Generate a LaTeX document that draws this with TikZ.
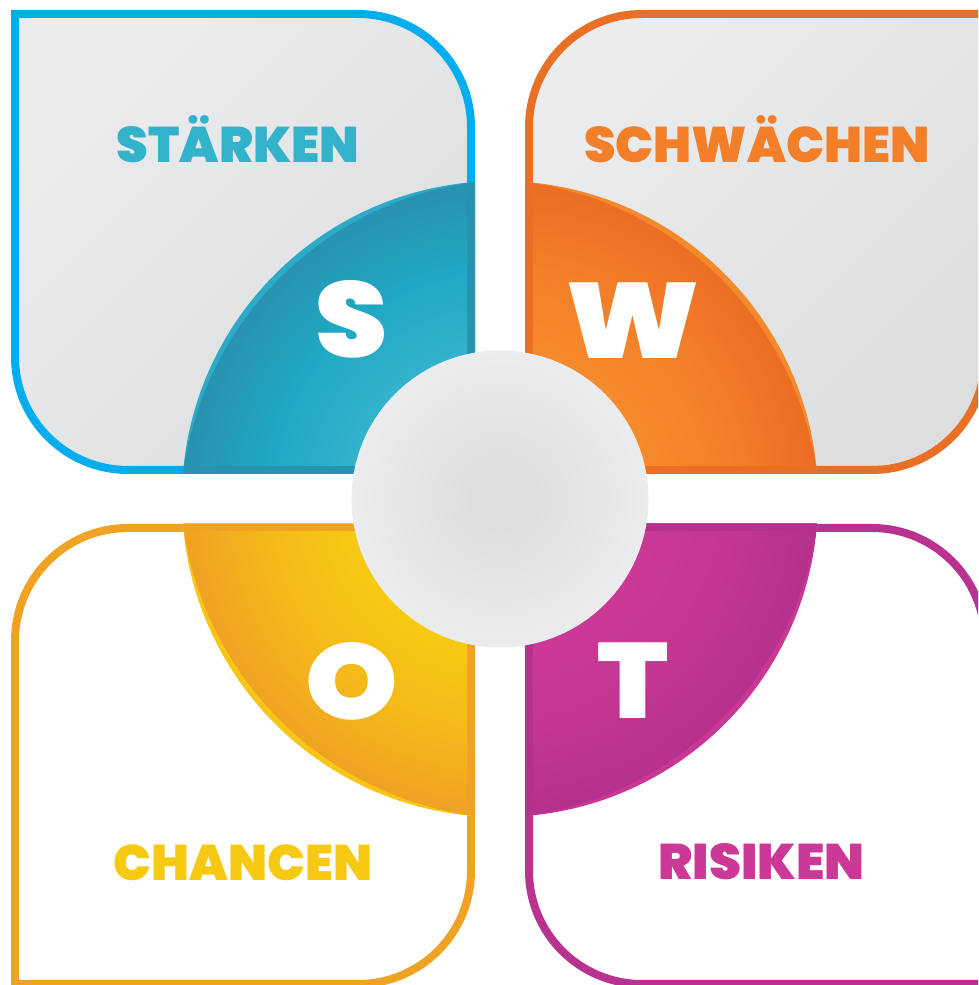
\documentclass[tikz,border=0pt]{standalone}
\usepackage{fontspec}
\newfontfamily\swotfont{Poppins Black}
\definecolor{grayA}{HTML}{EBECEE}
\definecolor{grayB}{HTML}{DDDEE0}
\definecolor{cBlue}{HTML}{00AEEF}
\definecolor{cOrange}{HTML}{E96F25}
\definecolor{cAmber}{HTML}{F0A323}
\definecolor{cPurple}{HTML}{B9328F}
\definecolor{sA}{HTML}{33B2CC}\definecolor{sB}{HTML}{1FA8C4}\definecolor{sC}{HTML}{2893B0}\definecolor{sR}{HTML}{2CABC8}
\definecolor{wA}{HTML}{F58B2C}\definecolor{wB}{HTML}{F37F28}\definecolor{wC}{HTML}{EC6E24}\definecolor{wR}{HTML}{F58A2C}
\definecolor{oA}{HTML}{F6C913}\definecolor{oB}{HTML}{F4BA19}\definecolor{oC}{HTML}{F0A323}\definecolor{oR}{HTML}{F6C515}
\definecolor{tA}{HTML}{CC3896}\definecolor{tB}{HTML}{C23793}\definecolor{tC}{HTML}{B6318E}\definecolor{tR}{HTML}{C93795}
\pgfdeclareradialshading{shs}{\pgfpoint{0bp}{0bp}}{color(0bp)=(sA);color(12bp)=(sA);color(18.5bp)=(sB);color(25bp)=(sC);color(50bp)=(sC)}
\pgfdeclareradialshading{shw}{\pgfpoint{0bp}{0bp}}{color(0bp)=(wA);color(12bp)=(wA);color(18.5bp)=(wB);color(25bp)=(wC);color(50bp)=(wC)}
\pgfdeclareradialshading{sho}{\pgfpoint{0bp}{0bp}}{color(0bp)=(oA);color(12bp)=(oA);color(18.5bp)=(oB);color(25bp)=(oC);color(50bp)=(oC)}
\pgfdeclareradialshading{sht}{\pgfpoint{0bp}{0bp}}{color(0bp)=(tA);color(12bp)=(tA);color(18.5bp)=(tB);color(25bp)=(tC);color(50bp)=(tC)}
\pgfdeclareradialshading{shc}{\pgfpoint{0bp}{0bp}}{color(0bp)=(grayB);color(5bp)=(grayB);color(25bp)=(grayA);color(50bp)=(grayA)}
\tikzset{
  x=1pt,y=1pt,
  boxline/.style={line width=8pt,line join=miter},
  grayfill/.style={top color=grayA,bottom color=grayB,shading angle=45},
  caption/.style={anchor=base,inner sep=0pt,font=\swotfont\fontsize{50}{50}\selectfont},
  letter/.style={anchor=base,inner sep=0pt,text=white,font=\swotfont\fontsize{107}{107}\selectfont}
}
% outer rectangle (1-4), inner rectangle (5-8), colour prefix (9); \qc = centre of the tapering inner arc
\newcommand{\quarter}[9]{%
  \begin{scope}
    \clip (#1,#2) rectangle (#3,#4);
    \fill[#9R] (500,486) circle (318);
    \begin{scope}
      \clip (\qc) circle (340);
      \clip (500,486) circle (318);
      \fill[#9C] (#1,#2) rectangle (#3,#4);
    \end{scope}
  \end{scope}
  \begin{scope}
    \clip (#5,#6) rectangle (#7,#8);
    \clip (\qc) circle (340);
    \shade[shading=sh#9] (500,486) circle (312);
  \end{scope}
}
\begin{document}
\begin{tikzpicture}
\useasboundingbox (0,0) rectangle (978,985);
\fill[white] (0,0) rectangle (978,985);
\clip (0,0) rectangle (978,985);
% boxes
\shade[grayfill] (15,971) -- (358,971) arc[start angle=90,end angle=0,radius=113] -- (471,515) -- (128,515) arc[start angle=270,end angle=180,radius=113] -- cycle;
\draw[boxline,cBlue] (15,971) -- (358,971) arc[start angle=90,end angle=0,radius=113] -- (471,515) -- (128,515) arc[start angle=270,end angle=180,radius=113] -- cycle;
\shade[grayfill] (642,971) -- (985,971) -- (985,628) arc[start angle=0,end angle=-90,radius=113] -- (529,515) -- (529,858) arc[start angle=180,end angle=90,radius=113] -- cycle;
\draw[boxline,cOrange] (642,971) -- (985,971) -- (985,628) arc[start angle=0,end angle=-90,radius=113] -- (529,515) -- (529,858) arc[start angle=180,end angle=90,radius=113] -- cycle;
\draw[boxline,cAmber,fill=white] (128,457) -- (471,457) -- (471,114) arc[start angle=0,end angle=-90,radius=113] -- (15,1) -- (15,344) arc[start angle=180,end angle=90,radius=113] -- cycle;
\draw[boxline,cPurple,fill=white] (529,457) -- (872,457) arc[start angle=90,end angle=0,radius=113] -- (985,1) -- (642,1) arc[start angle=270,end angle=180,radius=113] -- cycle;
% quarters
\def\qc{520,466}\quarter{0}{511}{475}{985}{0}{519}{467}{985}{s}
\def\qc{480,466}\quarter{525}{511}{985}{985}{533}{519}{985}{985}{w}
\def\qc{520,506}\quarter{0}{0}{475}{461}{0}{0}{467}{453}{o}
\def\qc{480,506}\quarter{525}{0}{985}{461}{533}{0}{985}{453}{t}
% centre
\shade[shading=shc] (500,486) circle (148.5);
% captions
\node[caption,text=sA] (capS) at (238,822) {\scalebox{1.017}[1]{STÄRKEN}};
\node[caption,text=wB] (capW) at (757,822) {\scalebox{1.009}[1]{SCHWÄCHEN}};
\node[caption,text=oA] (capO) at (243,104) {\scalebox{1.004}[1]{CHANCEN}};
\node[caption,text=tA] (capT) at (761.5,105) {\scalebox{1.025}[1]{RISIKEN}};
% letters
\node[letter] (letS) at (352,627) {\scalebox{1.08}[1]{S}};
\node[letter] (letW) at (633,626) {\scalebox{1.145}[1]{W}};
\node[letter] (letO) at (351.5,265) {\scalebox{1.1}[1]{O}};
\node[letter] (letT) at (633.5,266) {\scalebox{1.08}[1]{T}};
\end{tikzpicture}
\end{document}
